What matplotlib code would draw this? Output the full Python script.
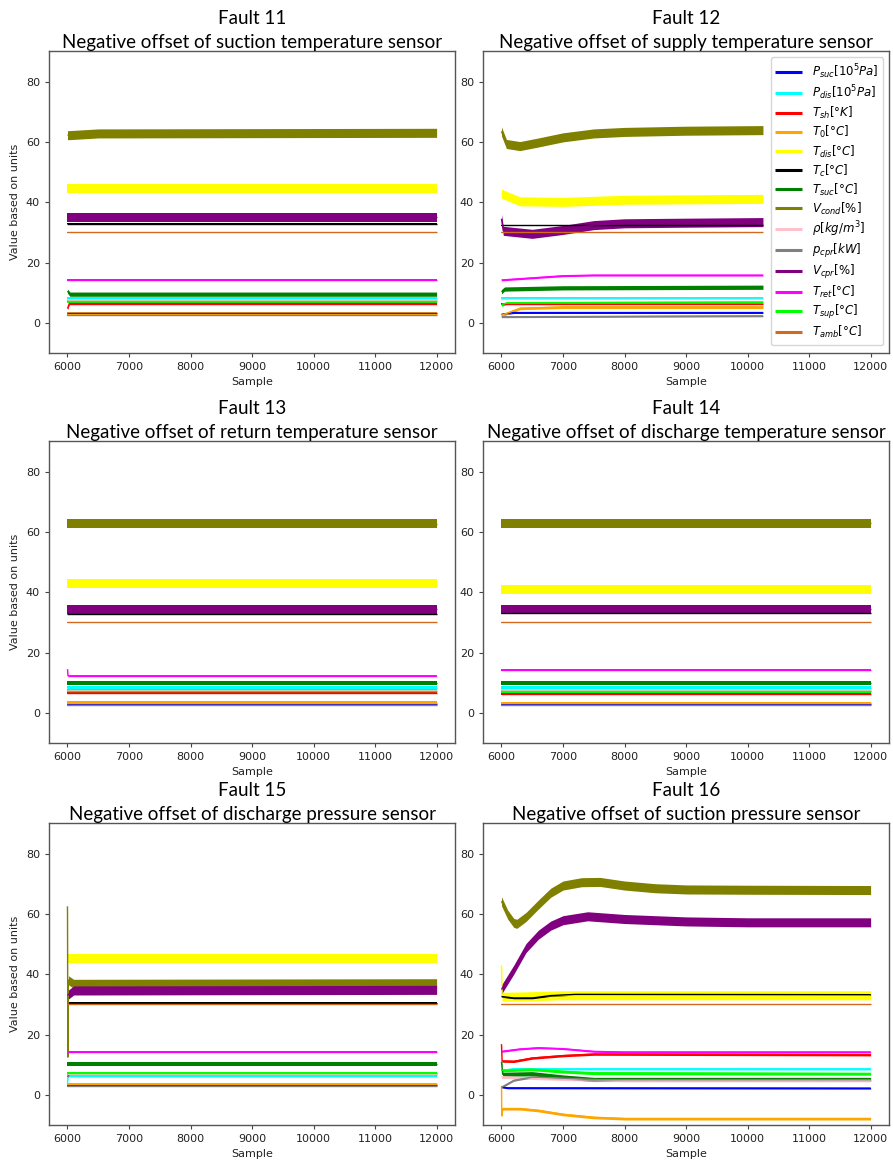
import numpy as np
import matplotlib.pyplot as plt

# Signals in plotting order, with their legend labels and colours
SERIES = ['P_suc', 'P_dis', 'T_sh', 'T_0', 'T_dis', 'T_c', 'T_suc',
          'V_cond', 'rho', 'p_cpr', 'V_cpr', 'T_ret', 'T_sup', 'T_amb']
LEGEND_LABELS = [r'$P_{suc}[10^5Pa]$', r'$P_{dis}[10^5Pa]$', r'$T_{sh}[°K]$',
                 r'$T_0[°C]$', r'$T_{dis}[°C]$', r'$T_c[°C]$', r'$T_{suc}[°C]$',
                 r'$V_{cond}[\%]$', r'$\rho[kg/m^3]$', r'$p_{cpr}[kW]$',
                 r'$V_{cpr}[\%]$', r'$T_{ret}[°C]$', r'$T_{sup}[°C]$',
                 r'$T_{amb}[°C]$']
COLORS = ['blue', 'cyan', 'red', 'orange', 'yellow', 'black', 'green',
          'olive', 'pink', 'gray', 'purple', 'magenta', 'lime', 'chocolate']
# half spread of the measurement noise around each trace (signal units)
NOISE_SPREAD = [0.3, 0.35, 0.4, 0.45, 1.5, 0.25, 0.7,
                1.5, 0.45, 0.3, 1.5, 0.3, 0.5, 0.2]

FAULT_IDS = [11, 12, 13, 14, 15, 16]
FAULT_NAMES = ['Negative offset of suction temperature sensor',
               'Negative offset of supply temperature sensor',
               'Negative offset of return temperature sensor',
               'Negative offset of discharge temperature sensor',
               'Negative offset of discharge pressure sensor',
               'Negative offset of suction pressure sensor']
FIRST_SAMPLE = 6000
LAST_SAMPLE = [12000, 10250, 12000, 12000, 12000, 12000]

# steady level (number) or (sample, value) knots for each signal
fault11 = {
    'P_suc': 3.1, 'P_dis': 8.3,
    'T_sh': [(6000, 4.7), (6030, 6.4), (12000, 6.4)],
    'T_0': 3.0, 'T_dis': 44.4, 'T_c': 32.9,
    'T_suc': [(6000, 10.5), (6040, 9.5), (12000, 9.5)],
    'V_cond': [(6000, 62.2), (6500, 62.8), (12000, 63.0)],
    'rho': 7.6, 'p_cpr': 2.6, 'V_cpr': 35.0, 'T_ret': 14.2,
    'T_sup': 7.2, 'T_amb': 30.0,
}
fault12 = {
    'P_suc': [(6000, 2.8), (6200, 3.4), (10250, 3.4)],
    'P_dis': 8.3, 'T_sh': 6.2,
    'T_0': [(6000, 2.5), (6300, 4.8), (7000, 5.2), (10250, 5.2)],
    'T_dis': [(6000, 42.8), (6300, 40.3), (7000, 40.1), (8000, 40.8),
              (10250, 41.1)],
    'T_c': 32.3,
    'T_suc': [(6000, 10.3), (6050, 11.2), (7000, 11.6), (10250, 11.8)],
    'V_cond': [(6000, 63.5), (6080, 59.3), (6300, 58.6), (6600, 59.8),
               (7000, 61.5), (7500, 62.8), (8000, 63.3), (9000, 63.7),
               (10250, 63.9)],
    'rho': 7.9,
    'p_cpr': [(6000, 2.0), (10250, 2.3)],
    'V_cpr': [(6000, 34.5), (6030, 30.5), (6500, 29.5), (7000, 30.8),
              (7500, 32.4), (8000, 33.0), (9000, 33.2), (10250, 33.4)],
    'T_ret': [(6000, 14.2), (6500, 14.9), (7000, 15.6), (7500, 15.8),
              (10250, 15.8)],
    'T_sup': [(6000, 6.0), (6100, 6.6), (10250, 6.8)],
    'T_amb': 30.0,
}
fault13 = {
    'P_suc': 3.0, 'P_dis': 8.4, 'T_sh': 6.5, 'T_0': 3.4, 'T_dis': 42.8,
    'T_c': 32.9, 'T_suc': 9.8, 'V_cond': 62.8, 'rho': 7.7, 'p_cpr': 2.65,
    'V_cpr': 34.4,
    'T_ret': [(6000, 14.5), (6008, 12.3), (12000, 12.3)],
    'T_sup': 7.3, 'T_amb': 30.0,
}
fault14 = {
    'P_suc': 3.0, 'P_dis': 8.4, 'T_sh': 6.4, 'T_0': 3.2, 'T_dis': 40.8,
    'T_c': 33.0, 'T_suc': 9.8, 'V_cond': 62.9, 'rho': 7.6, 'p_cpr': 2.5,
    'V_cpr': 34.4, 'T_ret': 14.1, 'T_sup': 7.1, 'T_amb': 30.0,
}
fault15 = {
    'P_suc': 3.2,
    'P_dis': [(6000, 4.0), (6010, 6.3), (12000, 6.3)],
    'T_sh': [(6000, 6.0), (6030, 6.9), (12000, 6.9)],
    'T_0': 3.5, 'T_dis': 45.2, 'T_c': 30.5, 'T_suc': 10.3,
    'V_cond': [(6000, 62.5), (6006, 12.5), (6015, 38.0), (6100, 36.8),
               (12000, 37.0)],
    'rho': 7.0, 'p_cpr': 3.0,
    'V_cpr': [(6000, 33.0), (6100, 34.6), (12000, 34.8)],
    'T_ret': 14.3, 'T_sup': 7.2, 'T_amb': 30.1,
}
fault16 = {
    'P_suc': [(6000, 2.6), (6100, 2.3), (12000, 2.2)],
    'P_dis': [(6000, 8.1), (6200, 8.6), (12000, 8.6)],
    'T_sh': [(6000, 16.8), (6010, 11.2), (6200, 11.1), (6500, 12.2),
             (7000, 13.0), (7500, 13.5), (12000, 13.3)],
    'T_0': [(6000, 3.0), (6005, -7.0), (6020, -4.6), (6300, -4.6),
            (6600, -5.2), (7000, -6.5), (7500, -7.5), (8000, -7.9),
            (12000, -7.9)],
    'T_dis': [(6000, 43.0), (6010, 32.5), (6300, 32.6), (7000, 33.0),
              (12000, 33.0)],
    'T_c': [(6000, 32.6), (6200, 32.1), (6500, 32.1), (6800, 32.9),
            (7200, 33.3), (12000, 33.2)],
    'T_suc': [(6000, 11.0), (6020, 6.8), (6500, 7.0), (7000, 5.9),
              (7500, 5.1), (12000, 5.1)],
    'V_cond': [(6000, 64.2), (6100, 59.8), (6200, 57.0), (6250, 56.7),
               (6400, 59.0), (6600, 63.1), (6800, 67.0), (7000, 69.4),
               (7300, 70.5), (7600, 70.6), (8000, 69.4), (8500, 68.5),
               (9000, 68.1), (10000, 68.0), (12000, 67.9)],
    'rho': [(6000, 5.9), (7000, 5.2), (8000, 4.8), (12000, 4.8)],
    'p_cpr': [(6000, 2.5), (6200, 4.8), (6500, 5.9), (7000, 5.5),
              (7500, 5.0), (12000, 5.0)],
    'V_cpr': [(6000, 34.9), (6200, 41.5), (6400, 48.7), (6600, 53.1),
              (6800, 56.1), (7000, 57.9), (7400, 59.2), (8000, 58.3),
              (9000, 57.5), (10000, 57.2), (12000, 57.2)],
    'T_ret': [(6000, 14.4), (6300, 15.2), (6600, 15.6), (7000, 15.3),
              (7500, 14.4), (8000, 14.2), (12000, 14.2)],
    'T_sup': [(6000, 8.1), (6500, 8.5), (7000, 7.7), (7500, 7.2),
              (12000, 7.0)],
    'T_amb': 30.0,
}
FAULT_DATA = [fault11, fault12, fault13, fault14, fault15, fault16]

TITLE_FONT = 'Lato'
plt.rcParams['font.family'] = 'DejaVu Sans'
plt.rcParams['mathtext.fontset'] = 'dejavusans'

fig = plt.figure(figsize=(8.93, 11.63), dpi=100)
col_x = [0.0549, 0.5409]
row_y = [0.6965, 0.3611, 0.0327]
ax_w, ax_h = 0.4547, 0.2593

for k, (fid, name, data, last) in enumerate(zip(FAULT_IDS, FAULT_NAMES,
                                                FAULT_DATA, LAST_SAMPLE)):
    row, col = divmod(k, 2)
    ax = fig.add_axes([col_x[col], row_y[row], ax_w, ax_h])
    for key, label, color, spread in zip(SERIES, LEGEND_LABELS, COLORS,
                                         NOISE_SPREAD):
        track = data[key]
        if not isinstance(track, list):
            track = [(FIRST_SAMPLE, track), (last, track)]
        xs = np.array([p[0] for p in track], dtype=float)
        ys = np.array([p[1] for p in track], dtype=float)
        # noise band plus the trace itself
        ax.fill_between(xs, ys - spread, ys + spread, color=color, lw=0)
        ax.plot(xs, ys, color=color, lw=1.0, label=label,
                solid_capstyle='butt')

    ax.set_xlim(5700, 12300)
    ax.set_ylim(-10, 90)
    ax.set_xticks(range(6000, 12001, 1000))
    ax.set_yticks(range(0, 81, 20))
    ax.tick_params(labelsize=8, length=3, width=0.8, color='#444444',
                   labelcolor='#222222')
    for sp in ax.spines.values():
        sp.set_color('#555555')
        sp.set_linewidth(1.0)
    ax.set_xlabel('Sample', fontsize=8, labelpad=3.5, color='#222222')
    if col == 0:
        ax.set_ylabel('Value based on units', fontsize=8, color='#222222')
    ax.set_title(f'Fault {fid}\n{name}', family=TITLE_FONT, fontsize=13.5,
                 pad=1.5, linespacing=1.55)

    if fid == 12:
        leg = ax.legend(loc='upper right', fontsize=8.5, handlelength=2.3,
                        borderaxespad=0.5, labelspacing=0.25)
        for line in leg.get_lines():
            line.set_linewidth(2.2)

fig.savefig('out.png', dpi=100)
